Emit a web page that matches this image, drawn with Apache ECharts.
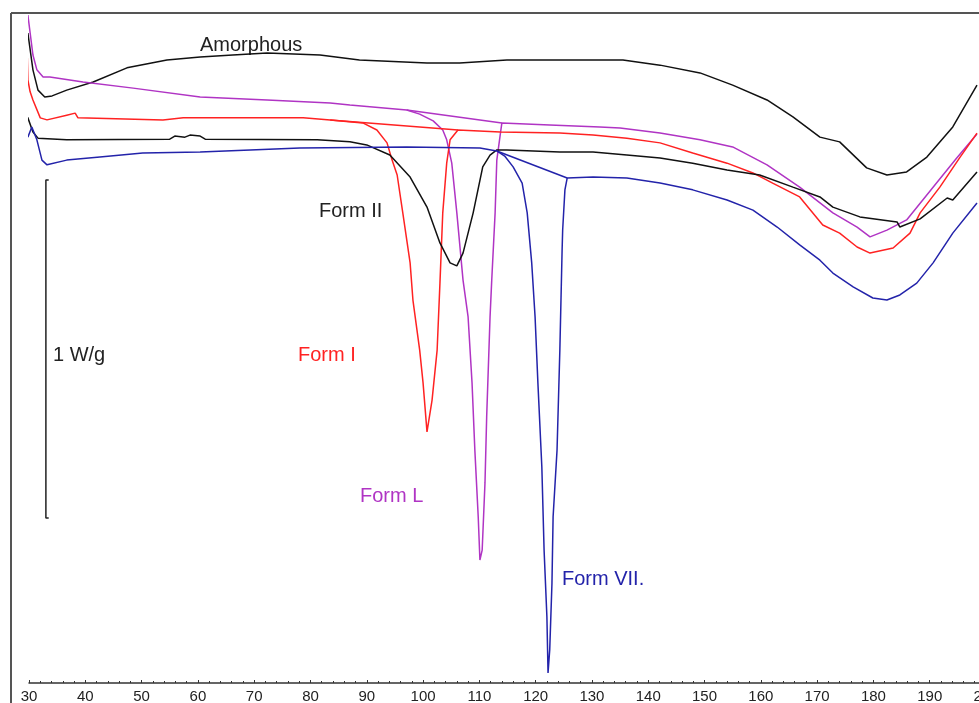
<!DOCTYPE html>
<html>
<head>
<meta charset="utf-8">
<title>DSC thermograms</title>
<script src="https://cdn.jsdelivr.net/npm/echarts@6/dist/echarts.min.js"></script>
<style>
  html, body { margin: 0; padding: 0; background: #fff; }
  #chart1 { width: 979px; height: 703px; }
</style>
</head>
<body>
<div id="chart1"></div>
<script>
// temperature (°C) / heat flow (W/g, offset)
var amorphousT  = [29.8, 30.7, 31.6, 32.8, 34.1, 36.7, 41.4, 47.4, 54.5, 60.4, 66.2, 72.3, 81.7, 88.7, 100.7, 106.5, 114.9, 135.5, 142.1, 149.2, 155.0, 161.1, 165.7, 170.5, 174.0, 178.8, 182.4, 185.9, 189.5, 194.1, 198.4];
var amorphousHF = [1.923, 1.814, 1.754, 1.734, 1.737, 1.754, 1.778, 1.820, 1.843, 1.852, 1.858, 1.864, 1.858, 1.843, 1.834, 1.834, 1.843, 1.843, 1.828, 1.805, 1.769, 1.725, 1.675, 1.615, 1.601, 1.524, 1.503, 1.512, 1.556, 1.645, 1.769];

var formLT  = [29.8, 30.7, 31.4, 32.5, 33.7, 39.6, 48.5, 60.4, 72.3, 83.5, 87.0, 97.1, 99.4, 101.8, 103.5, 104.2, 105.1, 106.0, 107.1, 108.0, 108.7, 109.2, 109.8, 110.1, 110.5, 111.0, 111.3, 111.9, 112.2, 112.8, 113.1, 113.7, 114.0, 122.5, 131.4, 135.0, 142.1, 149.2, 155.0, 161.1, 166.9, 172.8, 177.1, 179.4, 182.4, 185.9, 190.6, 194.8, 198.4];
var formLHF = [1.976, 1.858, 1.814, 1.793, 1.793, 1.778, 1.760, 1.734, 1.725, 1.716, 1.710, 1.695, 1.683, 1.663, 1.636, 1.607, 1.538, 1.391, 1.192, 1.083, 0.888, 0.689, 0.491, 0.364, 0.393, 0.592, 0.787, 1.083, 1.192, 1.391, 1.547, 1.621, 1.657, 1.651, 1.645, 1.642, 1.627, 1.607, 1.586, 1.533, 1.467, 1.391, 1.349, 1.320, 1.340, 1.370, 1.467, 1.553, 1.624];

var formIT  = [29.7, 29.8, 30.2, 30.7, 32.0, 33.2, 36.7, 38.2, 38.7, 53.8, 57.4, 78.7, 83.5, 89.3, 91.8, 93.6, 94.5, 95.4, 96.4, 97.7, 98.2, 99.4, 100.0, 100.7, 101.6, 102.5, 103.0, 103.5, 104.2, 104.8, 106.2, 113.7, 124.3, 130.2, 136.2, 142.1, 147.9, 154.0, 158.6, 162.1, 166.9, 171.0, 174.0, 177.1, 179.4, 183.5, 186.5, 188.3, 191.8, 195.4, 198.4];
var formIHF = [1.850, 1.784, 1.749, 1.725, 1.672, 1.666, 1.680, 1.686, 1.672, 1.666, 1.672, 1.672, 1.666, 1.657, 1.636, 1.598, 1.547, 1.503, 1.391, 1.243, 1.133, 0.985, 0.888, 0.743, 0.837, 0.985, 1.183, 1.391, 1.538, 1.607, 1.636, 1.630, 1.627, 1.621, 1.612, 1.598, 1.568, 1.538, 1.509, 1.479, 1.438, 1.355, 1.331, 1.290, 1.272, 1.287, 1.331, 1.391, 1.467, 1.556, 1.627];

var formIIT  = [28.9, 29.8, 30.7, 31.6, 36.7, 55.0, 55.9, 57.7, 58.6, 60.4, 61.3, 81.2, 87.0, 90.0, 94.1, 97.7, 100.7, 103.0, 104.8, 106.0, 107.1, 108.9, 110.6, 111.9, 113.1, 114.9, 124.3, 130.2, 136.2, 142.1, 147.9, 154.0, 159.8, 165.7, 170.5, 172.8, 177.6, 184.2, 184.7, 188.3, 193.1, 194.1, 198.4];
var formIIHF = [1.689, 1.672, 1.630, 1.612, 1.607, 1.609, 1.618, 1.615, 1.621, 1.618, 1.609, 1.607, 1.601, 1.592, 1.562, 1.497, 1.408, 1.302, 1.243, 1.234, 1.272, 1.391, 1.527, 1.562, 1.577, 1.577, 1.571, 1.571, 1.562, 1.553, 1.538, 1.518, 1.503, 1.467, 1.438, 1.408, 1.379, 1.364, 1.349, 1.373, 1.435, 1.429, 1.512];

var formVIIT  = [29.8, 30.5, 31.4, 32.3, 33.2, 36.7, 42.6, 50.2, 60.4, 69.3, 78.1, 97.1, 110.1, 113.1, 114.5, 116.0, 117.6, 118.5, 119.3, 119.9, 120.4, 121.1, 121.5, 122.0, 122.2, 122.5, 122.9, 123.1, 123.8, 124.3, 124.7, 124.8, 125.2, 125.6, 130.2, 136.2, 142.1, 147.9, 154.0, 158.6, 162.9, 166.9, 170.5, 172.8, 176.4, 179.9, 182.4, 184.7, 187.7, 190.6, 194.1, 198.4];
var formVIIHF = [1.615, 1.645, 1.607, 1.547, 1.533, 1.547, 1.556, 1.568, 1.571, 1.577, 1.583, 1.586, 1.583, 1.574, 1.559, 1.527, 1.479, 1.391, 1.243, 1.083, 0.888, 0.639, 0.393, 0.195, 0.030, 0.098, 0.296, 0.491, 0.689, 0.985, 1.281, 1.340, 1.459, 1.494, 1.497, 1.494, 1.479, 1.459, 1.429, 1.399, 1.349, 1.296, 1.251, 1.213, 1.172, 1.139, 1.133, 1.148, 1.183, 1.243, 1.331, 1.420];

// integration baselines drawn between the limit ticks
var formIBase   = [[83.5, 1.666], [106.2, 1.636]];
var formLBase   = [[97.1, 1.695], [114.0, 1.657]];
var formVIIBase = [[113.1, 1.574], [125.6, 1.494]];

// 1 W/g scale bar
var scaleBar = [[33.5, 1.488], [33.0, 1.488], [33.0, 0.488], [33.5, 0.488]];

var xTicks = [30, 40, 50, 60, 70, 80, 90, 100, 110, 120, 130, 140, 150, 160, 170, 180, 190, 200];

function zip(a, b) {
    var out = [];
    for (var i = 0; i < a.length; i++) out.push([a[i], b[i]]);
    return out;
}

function curve(name, data, color) {
    return {
        name: name,
        type: 'line',
        data: data,
        showSymbol: false,
        clip: false,
        silent: true,
        lineStyle: { color: color, width: 1.5 },
        itemStyle: { color: color }
    };
}

var black = '#111111', red = '#ff2222', magenta = '#b034c4', blue = '#2323aa';
var font = 'Liberation Sans, Arial, sans-serif';

var myChart = echarts.init(document.getElementById('chart1'));
myChart.setOption({
    backgroundColor: '#ffffff',
    animation: false,
    grid: { left: 29, top: 7, width: 957, height: 676, outerBoundsMode: 'none', containLabel: false },
    xAxis: {
        type: 'value',
        min: 30,
        max: 200,
        interval: 10,
        axisLine: { lineStyle: { color: '#333', width: 1.5 } },
        axisTick: { inside: true, length: 3, lineStyle: { color: '#333' } },
        minorTick: { show: true, splitNumber: 5, length: 2, lineStyle: { color: '#333' } },
        splitLine: { show: false },
        axisLabel: {
            margin: 6,
            color: '#222',
            fontSize: 15,
            fontFamily: font,
            formatter: function (v) { return xTicks.indexOf(v) >= 0 ? String(v) : ''; }
        }
    },
    yAxis: { type: 'value', min: 0, max: 2, show: false },
    series: [
        curve('Amorphous', zip(amorphousT, amorphousHF), black),
        curve('Form L', zip(formLT, formLHF), magenta),
        curve('Form I', zip(formIT, formIHF), red),
        curve('Form II', zip(formIIT, formIIHF), black),
        curve('Form VII.', zip(formVIIT, formVIIHF), blue),
        curve('Form I baseline', formIBase, red),
        curve('Form L baseline', formLBase, magenta),
        curve('Form VII baseline', formVIIBase, blue),
        curve('1 W/g', scaleBar, '#222')
    ],
    graphic: [
        { type: 'line', shape: { x1: 11, y1: 13, x2: 979, y2: 13 }, style: { stroke: '#555', lineWidth: 2 } },
        { type: 'line', shape: { x1: 11, y1: 13, x2: 11, y2: 703 }, style: { stroke: '#555', lineWidth: 2 } },
        { type: 'text', left: 200, top: 35, style: { text: 'Amorphous', fill: '#222', font: '20px ' + font } },
        { type: 'text', left: 319, top: 201, style: { text: 'Form II', fill: '#222', font: '20px ' + font } },
        { type: 'text', left: 298, top: 345, style: { text: 'Form I', fill: red, font: '20px ' + font } },
        { type: 'text', left: 360, top: 486, style: { text: 'Form L', fill: magenta, font: '20px ' + font } },
        { type: 'text', left: 562, top: 569, style: { text: 'Form VII.', fill: blue, font: '20px ' + font } },
        { type: 'text', left: 53, top: 345, style: { text: '1 W/g', fill: '#222', font: '20px ' + font } }
    ]
});
</script>
</body>
</html>
